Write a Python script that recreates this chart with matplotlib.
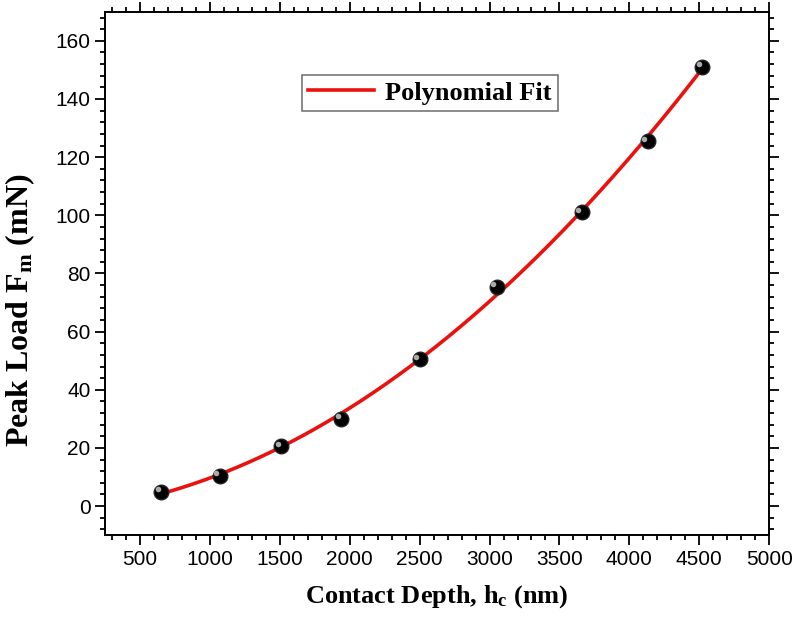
import numpy as np
import matplotlib.pyplot as plt
from matplotlib.ticker import MultipleLocator

# contact depth (nm) and peak load (mN)
depth = [650, 1070, 1510, 1940, 2500, 3050, 3660, 4130, 4520]
load = [5.0, 10.5, 20.5, 30.0, 50.5, 75.5, 101.0, 125.5, 151.0]

plt.rcParams['mathtext.fontset'] = 'custom'
plt.rcParams['mathtext.rm'] = 'Liberation Serif:bold'
plt.rcParams['mathtext.it'] = 'Liberation Serif:bold'
plt.rcParams['mathtext.bf'] = 'Liberation Serif:bold'

fig = plt.figure(figsize=(7.97, 6.18), dpi=100)
ax = fig.add_axes([0.132, 0.134, 0.833, 0.847])

# second order polynomial fit of the points
coef = np.polyfit(depth, load, 2)
xs = np.linspace(min(depth), max(depth), 300)
ax.plot(xs, np.polyval(coef, xs), color='#e8130f', lw=2.6, label='Polynomial Fit', zorder=2)
ax.plot(depth, load, 'o', ms=10.5, mfc='black', mec='#222222', zorder=3)
# small highlight on each sphere
ax.plot(np.array(depth) - 25, np.array(load) + 0.9, 'o', ms=4, mfc='#aaaaaa', mec='none', zorder=4)

ax.set_xlim(250, 5000)
ax.set_ylim(-10, 170)
ax.xaxis.set_minor_locator(MultipleLocator(100))
ax.yaxis.set_minor_locator(MultipleLocator(4))
ax.set_xticks(range(500, 5001, 500))
ax.set_yticks(range(0, 161, 20))

for s in ax.spines.values():
    s.set_linewidth(1.4)
ax.tick_params(which='both', direction='out', width=1.3, labelsize=15,
               labelfontfamily='Liberation Sans', colors='black')
ax.tick_params(which='major', length=7)
ax.tick_params(which='minor', length=3.5)
ax.tick_params(which='both', top=True, right=True)

ax.set_xlabel('Contact Depth, h$_\\mathrm{c}$ (nm)', fontsize=19, fontweight='bold',
              family='Liberation Serif', labelpad=10)
ax.set_ylabel('Peak Load F$_\\mathrm{m}$ (mN)', fontsize=23, fontweight='bold',
              family='Liberation Serif')
ax.yaxis.set_label_coords(-0.102, 0.43)

leg = ax.legend(loc='upper left', bbox_to_anchor=(0.296, 0.88), fancybox=False,
                prop={'family': 'Liberation Serif', 'weight': 'bold', 'size': 19},
                handlelength=2.5, borderpad=0.25, handletextpad=0.4, borderaxespad=0)
leg.get_frame().set_edgecolor('#555555')
leg.get_frame().set_linewidth(1.2)

fig.savefig('out.png', dpi=100)
